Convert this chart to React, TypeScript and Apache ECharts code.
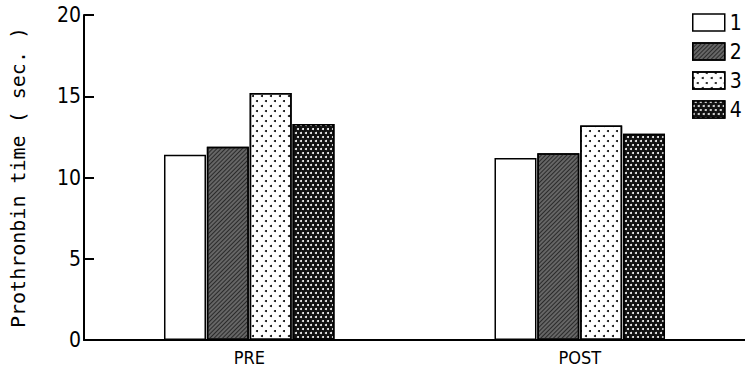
import React, { useEffect, useRef } from "react";
import * as echarts from "echarts";

const categories = ["PRE", "POST"];
const seriesNames = ["1", "2", "3", "4"];
const group1 = [11.4, 11.2];
const group2 = [11.9, 11.5];
const group3 = [15.2, 13.2];
const group4 = [13.3, 12.7];
const yTicks = [0, 5, 10, 15, 20];

const condensed = "'DejaVu Sans Condensed', 'Liberation Sans Narrow', 'DejaVu Sans', sans-serif";
const mono = "'DejaVu Sans Mono', 'Liberation Mono', monospace";

export default function App() {
  const ref = useRef<HTMLDivElement>(null);
  useEffect(() => {
    if (!ref.current) return;
    const chart = echarts.init(ref.current, undefined, { renderer: "svg" });
    const border = { borderColor: "#000", borderWidth: 1.5 };
    const decals: any[] = [
      null,
      {
        symbol: "rect",
        color: "#2a2a2a",
        backgroundColor: "#fff",
        dashArrayX: [1, 0],
        dashArrayY: [1, 2],
        rotation: -Math.PI / 4,
      },
      {
        symbol: "circle",
        symbolSize: 1,
        color: "#000",
        backgroundColor: "#fff",
        dashArrayX: [[1.6, 6.4], [0, 4, 1.6, 2.4]],
        dashArrayY: [1.6, 2.4],
      },
      {
        symbol: "circle",
        symbolSize: 1,
        color: "#fff",
        backgroundColor: "#000",
        dashArrayX: [[1.5, 2.5], [0, 2, 1.5, 0.5]],
        dashArrayY: [1.5, 1.5],
      },
    ];
    const colors = ["#fff", "#666", "#fff", "#111"];
    const data = [group1, group2, group3, group4];
    chart.setOption({
      animation: false,
      grid: { left: 84, width: 664, top: 15, bottom: 35 },
      legend: {
        orient: "vertical",
        left: 692,
        top: 12,
        padding: 0,
        itemWidth: 32,
        itemHeight: 17,
        itemGap: 8,
        itemStyle: { borderWidth: 1.5 },
        icon: "rect",
        textStyle: { fontFamily: condensed, fontSize: 21, color: "#000" },
        data: seriesNames,
      },
      xAxis: {
        type: "category",
        data: categories,
        axisLine: { lineStyle: { color: "#000", width: 2 } },
        axisTick: { show: false },
        axisLabel: { fontFamily: condensed, fontSize: 18, color: "#000", margin: 8 },
      },
      yAxis: {
        type: "value",
        min: 0,
        max: 20,
        interval: 5,
        name: "Prothronbin time ( sec. )",
        nameLocation: "middle",
        nameGap: 56,
        nameTextStyle: { fontFamily: mono, fontSize: 20, color: "#000" },
        axisLine: { show: true, lineStyle: { color: "#000", width: 2 } },
        axisTick: { show: true, inside: true, length: 10, lineStyle: { color: "#000", width: 2 } },
        axisLabel: {
          fontFamily: condensed,
          fontSize: 21,
          color: "#000",
          margin: 3,
          formatter: (v: number) => (yTicks.includes(v) ? String(v) : ""),
        },
        splitLine: { show: false },
      },
      series: seriesNames.map((n, i) => ({
        name: n,
        type: "bar",
        data: data[i],
        barWidth: 42,
        barGap: "2%",
        itemStyle: { color: colors[i], ...border, ...(decals[i] ? { decal: decals[i] } : {}) },
      })),
    });
    return () => chart.dispose();
  }, []);
  return (
    <div
      ref={ref}
      style={{ position: "absolute", left: 0, top: 0, width: 745, height: 375, background: "#fff" }}
    />
  );
}
